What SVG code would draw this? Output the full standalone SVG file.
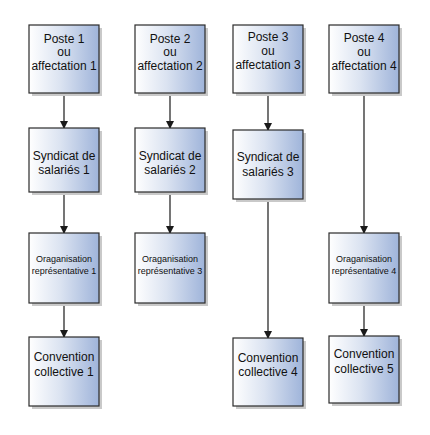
<svg xmlns="http://www.w3.org/2000/svg" width="430" height="435" viewBox="0 0 430 435">
  <defs>
    <linearGradient id="g" x1="0" y1="0" x2="1" y2="0">
      <stop offset="0" stop-color="#ffffff"/>
      <stop offset="0.45" stop-color="#dbe3f1"/>
      <stop offset="1" stop-color="#9fb4da"/>
    </linearGradient>
    <marker id="arr" markerWidth="8" markerHeight="8" refX="7" refY="4" orient="auto" markerUnits="userSpaceOnUse">
      <path d="M0,0 L8,4 L0,8 Z" fill="#1a1a1a"/>
    </marker>
    <style>
      .box { fill: url(#g); stroke: #2b2b2b; stroke-width: 1.2; }
      .sh { fill: #c9c9c9; }
      .t { font-family: "Liberation Sans", Arial, sans-serif; font-size: 12px; fill: #111; text-anchor: middle; }
      .s { font-family: "Liberation Sans", Arial, sans-serif; font-size: 9px; fill: #111; text-anchor: middle; }
      .c { stroke: #1a1a1a; stroke-width: 1.2; fill: none; marker-end: url(#arr); }
    </style>
  </defs>
  <rect width="430" height="435" fill="#ffffff"/>

  <g id="connectors">
    <line class="c" x1="64" y1="93" x2="64" y2="128"/>
    <line class="c" x1="64" y1="192" x2="64" y2="233"/>
    <line class="c" x1="64" y1="303" x2="64" y2="337"/>
    <line class="c" x1="170" y1="93" x2="170" y2="128"/>
    <line class="c" x1="170" y1="192" x2="170" y2="233"/>
    <line class="c" x1="268" y1="93" x2="268" y2="130"/>
    <line class="c" x1="268" y1="199" x2="268" y2="338"/>
    <line class="c" x1="364" y1="93" x2="364" y2="233"/>
    <line class="c" x1="364" y1="303" x2="364" y2="336"/>
  </g>

  <g id="poste1">
    <rect class="sh" x="32" y="28" width="70" height="68"/>
    <rect class="box" x="29" y="25" width="70" height="68"/>
    <text class="t" x="64" y="42.5">Poste 1</text>
    <text class="t" x="64" y="56">ou</text>
    <text class="t" x="64" y="70">affectation 1</text>
  </g>
  <g id="poste2">
    <rect class="sh" x="138" y="28" width="70" height="68"/>
    <rect class="box" x="135" y="25" width="70" height="68"/>
    <text class="t" x="170" y="42.5">Poste 2</text>
    <text class="t" x="170" y="56">ou</text>
    <text class="t" x="170" y="70">affectation 2</text>
  </g>
  <g id="poste3">
    <rect class="sh" x="236" y="28" width="70" height="68"/>
    <rect class="box" x="233" y="25" width="70" height="68"/>
    <text class="t" x="268" y="41">Poste 3</text>
    <text class="t" x="268" y="54.5">ou</text>
    <text class="t" x="268" y="68.5">affectation 3</text>
  </g>
  <g id="poste4">
    <rect class="sh" x="332" y="28" width="70" height="68"/>
    <rect class="box" x="329" y="25" width="70" height="68"/>
    <text class="t" x="364" y="42">Poste 4</text>
    <text class="t" x="364" y="55.5">ou</text>
    <text class="t" x="364" y="69.5">affectation 4</text>
  </g>

  <g id="syndicat1">
    <rect class="sh" x="32" y="131" width="70" height="64"/>
    <rect class="box" x="29" y="128" width="70" height="64"/>
    <text class="t" x="64" y="160">Syndicat de</text>
    <text class="t" x="64" y="174">salariés 1</text>
  </g>
  <g id="syndicat2">
    <rect class="sh" x="138" y="131" width="70" height="64"/>
    <rect class="box" x="135" y="128" width="70" height="64"/>
    <text class="t" x="170" y="160">Syndicat de</text>
    <text class="t" x="170" y="174">salariés 2</text>
  </g>
  <g id="syndicat3">
    <rect class="sh" x="236" y="133" width="70" height="69"/>
    <rect class="box" x="233" y="130" width="70" height="69"/>
    <text class="t" x="268" y="161">Syndicat de</text>
    <text class="t" x="268" y="175.5">salariés 3</text>
  </g>

  <g id="organisation1">
    <rect class="sh" x="32" y="236" width="70" height="70"/>
    <rect class="box" x="29" y="233" width="70" height="70"/>
    <text class="s" x="64" y="262">Oraganisation</text>
    <text class="s" x="64" y="273.5">représentative 1</text>
  </g>
  <g id="organisation3">
    <rect class="sh" x="138" y="236" width="70" height="70"/>
    <rect class="box" x="135" y="233" width="70" height="70"/>
    <text class="s" x="170" y="262">Oraganisation</text>
    <text class="s" x="170" y="273.5">représentative 3</text>
  </g>
  <g id="organisation4">
    <rect class="sh" x="332" y="236" width="70" height="70"/>
    <rect class="box" x="329" y="233" width="70" height="70"/>
    <text class="s" x="364" y="262">Oraganisation</text>
    <text class="s" x="364" y="273.5">représentative 4</text>
  </g>

  <g id="convention1">
    <rect class="sh" x="32" y="340" width="70" height="69"/>
    <rect class="box" x="29" y="337" width="70" height="69"/>
    <text class="t" x="64" y="361">Convention</text>
    <text class="t" x="64" y="375.5">collective 1</text>
  </g>
  <g id="convention4">
    <rect class="sh" x="236" y="341" width="70" height="68"/>
    <rect class="box" x="233" y="338" width="70" height="68"/>
    <text class="t" x="268" y="361.5">Convention</text>
    <text class="t" x="268" y="376">collective 4</text>
  </g>
  <g id="convention5">
    <rect class="sh" x="332" y="339" width="70" height="67"/>
    <rect class="box" x="329" y="336" width="70" height="67"/>
    <text class="t" x="364" y="358">Convention</text>
    <text class="t" x="364" y="372.5">collective 5</text>
  </g>
</svg>
